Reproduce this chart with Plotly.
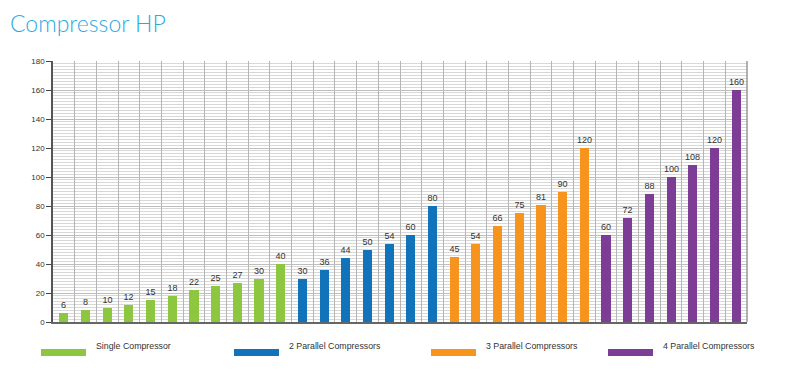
import plotly.graph_objects as go

title = "Compressor HP"
series_names = ["Single Compressor", "2 Parallel Compressors",
                "3 Parallel Compressors", "4 Parallel Compressors"]
single = [6, 8, 10, 12, 15, 18, 22, 25, 27, 30, 40]
parallel2 = [30, 36, 44, 50, 54, 60, 80]
parallel3 = [45, 54, 66, 75, 81, 90, 120]
parallel4 = [60, 72, 88, 100, 108, 120, 160]
colors = ["#8DC63F", "#1173BA", "#F7941D", "#7D3C96"]
y_ticks = list(range(0, 181, 20))

# page shows the figure offset by the default 8px body margin
OFF = 8
W, H = 790 - OFF, 377 - OFF
L, R, T, B = 53 - OFF, 790 - 747, 61 - OFF, 377 - 322
pw, ph = W - L - R, H - T - B

def px_x(p):
    return (p - OFF - L) / pw

def px_y(p):
    return (H - B - (p - OFF)) / ph

fig = go.Figure()
start = 0
all_series = [single, parallel2, parallel3, parallel4]
for name, vals, col in zip(series_names, all_series, colors):
    xs = list(range(start, start + len(vals)))
    start += len(vals)
    fig.add_trace(go.Bar(
        x=xs, y=vals, name=name, marker=dict(color=col, line=dict(width=0)),
        width=0.42, text=vals, textposition="outside", cliponaxis=False,
        constraintext="none",
        textfont=dict(family="Liberation Sans", size=9, color="#333333"),
        showlegend=False,
    ))
n = start

# custom legend (wide colour strips, text to the right)
leg_rect_x = [41, 234, 431, 608]
for name, col, x0 in zip(series_names, colors, leg_rect_x):
    fig.add_shape(type="rect", xref="paper", yref="paper",
                  x0=px_x(x0), x1=px_x(x0 + 45), y0=px_y(356), y1=px_y(349),
                  fillcolor=col, line=dict(width=0))
    fig.add_annotation(xref="paper", yref="paper", x=px_x(x0 + 53), y=px_y(346),
                       text=name, showarrow=False, xanchor="left", yanchor="middle",
                       font=dict(family="Liberation Sans", size=8.8, color="#333333"))

fig.update_layout(
    width=W, height=H,
    margin=dict(l=L, r=R, t=T, b=B),
    paper_bgcolor="white", plot_bgcolor="white",
    bargap=0,
    title=dict(text=title, x=(10 - OFF) / W, xanchor="left", y=1 - (24 - OFF) / H,
               yanchor="middle",
               font=dict(family="Lato", size=23, color="#29ABE2", weight=300)),
    xaxis=dict(range=[-0.5, n - 0.5], showticklabels=False, ticks="",
               tickmode="linear", tick0=0.5, dtick=1,
               showgrid=True, gridcolor="#b5b5b5", gridwidth=1,
               showline=True, linecolor="#666666", linewidth=1.5, mirror=False,
               zeroline=False, fixedrange=True),
    yaxis=dict(range=[0, 180], tickmode="array", tickvals=y_ticks,
               ticks="outside", ticklen=5, tickcolor="#444444",
               tickfont=dict(family="Liberation Sans", size=8, color="#333333"),
               showgrid=True, gridcolor="#bdbdbd", gridwidth=1,
               minor=dict(dtick=2, showgrid=True, gridcolor="#d8d8d8", gridwidth=1),
               showline=True, linecolor="#555555", linewidth=1.5,
               zeroline=False, fixedrange=True),
)
# right border line
fig.add_shape(type="line", xref="paper", yref="paper", x0=1, x1=1, y0=0, y1=1,
              line=dict(color="#999999", width=1.5))

fig.write_html("out.html")
